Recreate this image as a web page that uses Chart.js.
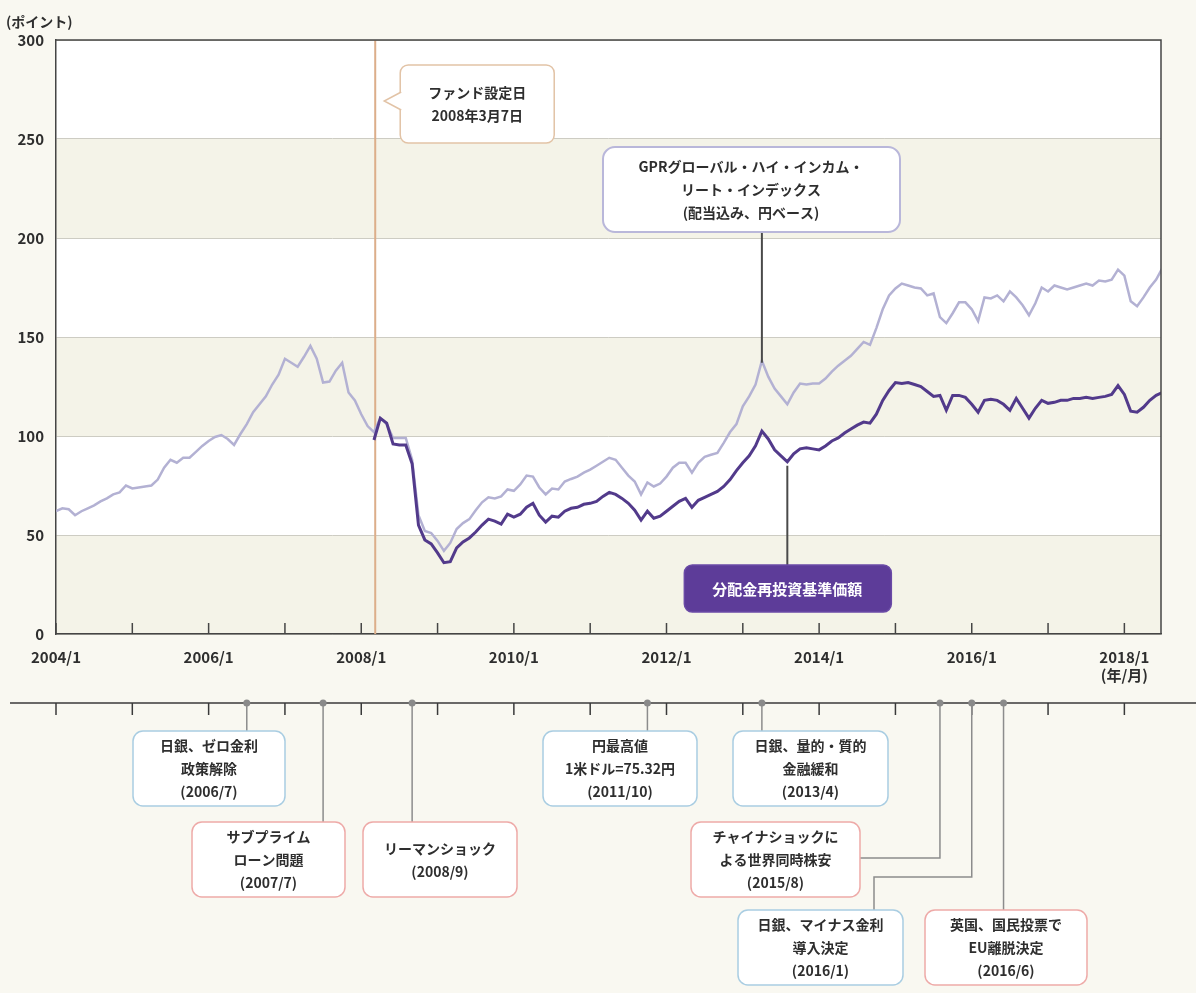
<!DOCTYPE html>
<html lang="ja">
<head>
<meta charset="utf-8">
<title>GPR index and fund NAV</title>
<script src="https://cdn.jsdelivr.net/npm/chart.js@4.4.0/dist/chart.umd.min.js"></script>
<style>
  html, body { margin: 0; padding: 0; background: #f9f8f1; }
  #wrap { width: 1196px; height: 993px; }
</style>
</head>
<body>
<div id="wrap"><canvas id="chart" width="1196" height="993"></canvas></div>
<script>
// Monthly values (points, 2008/3 = about 100)
const gprStart = '2004/1';
const gprValues = [
  62, 63.5, 63, 60, 62, 63.5, 65, 67, 68.5, 70.5, 71.5, 75,            // 2004
  73.5, 74, 74.5, 75, 78, 84, 88, 86.5, 89, 89, 92, 95,                // 2005
  97.5, 99.5, 100.5, 98.5, 95.5, 101, 106, 112, 116, 120, 126, 131,    // 2006
  139, 137, 135, 140, 145.5, 139, 127, 127.5, 133, 137, 122, 118,      // 2007
  111, 105, 102, 109, 106, 99, 99, 99, 88, 60, 52, 51,                 // 2008
  47, 42, 46, 53, 56, 58, 62.5, 66.5, 69, 68.5, 69.5, 73,              // 2009
  72.3, 75.5, 80, 79.5, 74, 70.5, 73.5, 73, 77, 78.3, 79.5, 81.5,      // 2010
  83, 85, 87, 89, 88, 84, 80, 77, 70.5, 76.5, 74.5, 76,                // 2011
  79.5, 84, 86.5, 86.5, 81.5, 86.5, 89.5, 90.5, 91.5, 96.5, 102, 106,  // 2012
  115, 120, 126, 138, 130, 124, 120, 116, 122, 126.5, 126, 126.5,      // 2013
  126.5, 129, 132.5, 135.5, 138, 140.5, 144, 147.5, 146, 154.5, 164, 171, // 2014
  174.5, 177, 176, 175, 174.5, 171, 172, 160, 157, 162, 167.5, 167.5,  // 2015
  164, 158, 170, 169.5, 171, 168, 173, 170, 166, 161, 167, 175,        // 2016
  173, 176, 175, 174, 175, 176, 177, 176, 178.5, 178, 179, 184,        // 2017
  181, 168, 165.5, 170, 175, 179, 185                                  // 2018
];
const fundStart = '2008/3';
const fundValues = [
  98, 109, 106.5, 96, 95.5, 95.5, 86, 55, 47.5, 45.5,                  // 2008
  41, 36, 36.5, 43.5, 46.5, 48.5, 51.5, 55, 58, 57, 55.5, 60.5,        // 2009
  59, 60.5, 64, 66, 60, 56.5, 59.5, 59, 62, 63.5, 64, 65.5,            // 2010
  66, 67, 69.5, 71.5, 70.5, 68.5, 66, 62.5, 57.5, 62, 58.5, 59.5,      // 2011
  62, 64.5, 67, 68.5, 64, 67.5, 69, 70.5, 72, 74.5, 78, 82.5,          // 2012
  86.5, 90, 95, 102.5, 98.5, 93, 90, 87, 91, 93.5, 94, 93.5,           // 2013
  93, 95, 97.5, 99, 101.5, 103.5, 105.5, 107, 106.5, 111, 118, 123,    // 2014
  127, 126.5, 127, 126, 125, 122.5, 120, 120.5, 113, 120.5, 120.5, 119.5, // 2015
  116, 112, 118, 118.5, 118, 116, 113, 119, 114, 109, 114, 118,        // 2016
  116.5, 117, 118, 118, 119, 119, 119.5, 119, 119.5, 120, 121, 125.5,  // 2017
  121, 112.5, 112, 114.5, 118, 120.5, 122                              // 2018
];

const yearTicks = [2004, 2005, 2006, 2007, 2008, 2009, 2010, 2011, 2012, 2013, 2014, 2015, 2016, 2017, 2018];
const launchDate = '2008/3/7';
const launchText = ['ファンド設定日', '2008年3月7日'];
const gprText = ['GPRグローバル・ハイ・インカム・', 'リート・インデックス', '(配当込み、円ベース)'];
const gprPointerDate = '2013/4';
const fundText = '分配金再投資基準価額';
const fundPointerDate = '2013/8';

const eventDates = ['2006/7', '2007/7', '2008/9', '2011/10', '2013/4', '2015/8', '2016/1', '2016/6'];
const eventTexts = [
  ['日銀、ゼロ金利', '政策解除'],
  ['サブプライム', 'ローン問題'],
  ['リーマンショック'],
  ['円最高値', '1米ドル=75.32円'],
  ['日銀、量的・質的', '金融緩和'],
  ['チャイナショックに', 'よる世界同時株安'],
  ['日銀、マイナス金利', '導入決定'],
  ['英国、国民投票で', 'EU離脱決定']
];
const eventKinds = ['policy', 'shock', 'shock', 'policy', 'policy', 'shock', 'policy', 'shock'];

// helpers
function toYear(s) {
  const p = s.split('/').map(Number);
  return p[0] + ((p[1] || 1) - 1) / 12 + ((p[2] || 1) - 1) / 365;
}
function series(start, values) {
  const s = toYear(start);
  return values.map((v, i) => ({ x: s + i / 12, y: v }));
}
function valueAt(start, values, date) {
  return values[Math.round((toYear(date) - toYear(start)) * 12)];
}

const FONT = '"Noto Sans CJK JP", "Noto Sans", sans-serif';
const PAGE_BG = '#f9f8f1';
const BAND = '#f4f3e8';
const AXIS = '#454545';
const TEXT = '#2e2e2e';
const GPR_COLOR = '#b3b1d3';
const FUND_COLOR = '#523a8b';
const LAUNCH_COLOR = '#dcae8a';
const BOX_BORDER = { policy: '#a9cde2', shock: '#eeaaa8' };

function line(ctx, pts) {
  ctx.beginPath();
  ctx.moveTo(pts[0][0], pts[0][1]);
  for (let i = 1; i < pts.length; i++) ctx.lineTo(pts[i][0], pts[i][1]);
  ctx.stroke();
}
function box(ctx, x, y, w, h, r, stroke, fill, lw) {
  ctx.beginPath();
  ctx.roundRect(x, y, w, h, r);
  ctx.fillStyle = fill;
  ctx.fill();
  ctx.lineWidth = lw;
  ctx.strokeStyle = stroke;
  ctx.stroke();
}
function textLines(ctx, lines, cx, cy, gap) {
  const top = cy - (lines.length - 1) * gap / 2;
  lines.forEach((t, i) => ctx.fillText(t, cx, top + i * gap));
}

const decor = {
  id: 'decor',
  beforeDraw(chart) {
    const { ctx, chartArea: a, scales: { y } } = chart;
    ctx.save();
    ctx.fillStyle = PAGE_BG;
    ctx.fillRect(0, 0, chart.width, chart.height);
    for (let v = 0; v < 300; v += 50) {
      ctx.fillStyle = (v / 50) % 2 === 0 ? BAND : '#ffffff';
      const y1 = y.getPixelForValue(v + 50), y0 = y.getPixelForValue(v);
      ctx.fillRect(a.left, y1, a.right - a.left, y0 - y1);
    }
    ctx.restore();
  },
  beforeDatasetsDraw(chart) {
    const { ctx, chartArea: a, scales: { x } } = chart;
    const px = x.getPixelForValue(toYear(launchDate));
    ctx.save();
    ctx.strokeStyle = LAUNCH_COLOR;
    ctx.lineWidth = 2;
    line(ctx, [[px, a.top], [px, a.bottom]]);
    ctx.restore();
  },
  afterDraw(chart) {
    const { ctx, chartArea: a, scales: { x, y } } = chart;
    ctx.save();

    // frame top / right and inward year ticks
    ctx.strokeStyle = AXIS;
    ctx.lineWidth = 1.5;
    line(ctx, [[a.left, a.top], [a.right, a.top], [a.right, a.bottom]]);
    yearTicks.forEach(v => {
      const px = x.getPixelForValue(v);
      line(ctx, [[px, a.bottom], [px, a.bottom - 11]]);
    });

    // unit
    ctx.fillStyle = TEXT;
    ctx.font = 'bold 14px ' + FONT;
    ctx.textAlign = 'left';
    ctx.textBaseline = 'middle';
    ctx.fillText('(ポイント)', 6, 22);

    ctx.textAlign = 'center';
    ctx.font = 'bold 14px ' + FONT;

    // fund launch callout
    const lx = x.getPixelForValue(toYear(launchDate));
    const bx = lx + 25, by = 65, bw = 154, bh = 78;
    box(ctx, bx, by, bw, bh, 8, '#e2c3a6', '#ffffff', 1.5);
    ctx.beginPath();
    ctx.moveTo(bx + 1, by + 27);
    ctx.lineTo(lx + 9, by + 36);
    ctx.lineTo(bx + 1, by + 45);
    ctx.fillStyle = '#ffffff';
    ctx.fill();
    ctx.strokeStyle = '#e2c3a6';
    ctx.stroke();
    ctx.fillStyle = TEXT;
    textLines(ctx, launchText, bx + bw / 2, by + 39, 23);

    // GPR callout
    const gx = x.getPixelForValue(toYear(gprPointerDate));
    const gy = y.getPixelForValue(valueAt(gprStart, gprValues, gprPointerDate));
    ctx.strokeStyle = '#4a4a4a';
    ctx.lineWidth = 2;
    line(ctx, [[gx, 232], [gx, gy + 2]]);
    box(ctx, 603, 147, 297, 85, 12, '#b9b7da', '#ffffff', 2);
    ctx.fillStyle = TEXT;
    textLines(ctx, gprText, 751, 190, 23);

    // fund label
    const fx = x.getPixelForValue(toYear(fundPointerDate));
    const fy = y.getPixelForValue(valueAt(fundStart, fundValues, fundPointerDate));
    ctx.strokeStyle = '#4a4a4a';
    line(ctx, [[fx, fy + 4], [fx, 566]]);
    box(ctx, fx - 103, 565, 207, 47, 8, '#6a4aa6', '#5d3c99', 1.5);
    ctx.fillStyle = '#ffffff';
    ctx.font = 'bold 15px ' + FONT;
    ctx.fillText(fundText, fx, 589);

    // event timeline
    const ty = 703;
    ctx.strokeStyle = '#3a3a3a';
    ctx.lineWidth = 1.5;
    line(ctx, [[10, ty], [chart.width, ty]]);
    yearTicks.forEach(v => {
      const px = x.getPixelForValue(v);
      line(ctx, [[px, ty], [px, ty + 12]]);
    });

    const boxes = [
      { x: 133, y: 731, w: 152 },
      { x: 192, y: 822, w: 153 },
      { x: 363, y: 822, w: 154 },
      { x: 543, y: 731, w: 154 },
      { x: 733, y: 731, w: 155 },
      { x: 691, y: 822, w: 169, side: 858 },
      { x: 738, y: 910, w: 165, elbow: [877, 874] },
      { x: 925, y: 910, w: 162 }
    ];
    ctx.font = 'bold 14px ' + FONT;
    eventDates.forEach((d, i) => {
      const px = x.getPixelForValue(toYear(d));
      const b = boxes[i];
      ctx.strokeStyle = '#8c8c8c';
      ctx.lineWidth = 1.5;
      if (b.side) {
        line(ctx, [[px, ty], [px, b.side], [b.x + b.w, b.side]]);
      } else if (b.elbow) {
        line(ctx, [[px, ty], [px, b.elbow[0]], [b.elbow[1], b.elbow[0]], [b.elbow[1], b.y]]);
      } else {
        line(ctx, [[px, ty], [px, b.y]]);
      }
      ctx.beginPath();
      ctx.arc(px, ty, 3.5, 0, Math.PI * 2);
      ctx.fillStyle = '#8a8a8a';
      ctx.fill();
      box(ctx, b.x, b.y, b.w, 75, 10, BOX_BORDER[eventKinds[i]], '#ffffff', 1.5);
      ctx.fillStyle = TEXT;
      textLines(ctx, eventTexts[i].concat('(' + d + ')'), b.x + b.w / 2, b.y + 38, 23);
    });

    ctx.restore();
  }
};

new Chart(document.getElementById('chart'), {
  type: 'line',
  data: {
    datasets: [
      {
        label: fundText,
        data: series(fundStart, fundValues),
        borderColor: FUND_COLOR,
        borderWidth: 3,
        pointRadius: 0,
        tension: 0
      },
      {
        label: gprText.join(''),
        data: series(gprStart, gprValues),
        borderColor: GPR_COLOR,
        borderWidth: 2.5,
        pointRadius: 0,
        tension: 0
      }
    ]
  },
  options: {
    responsive: false,
    animation: false,
    layout: { padding: { top: 40, right: 35, left: 0, bottom: 0 } },
    plugins: { legend: { display: false }, tooltip: { enabled: false } },
    scales: {
      x: {
        type: 'linear',
        min: 2004,
        max: 2018.48,
        afterBuildTicks: s => { s.ticks = yearTicks.map(v => ({ value: v })); },
        afterFit: s => { s.height = 359; },
        grid: { display: false },
        border: { display: true, color: AXIS, width: 1.5 },
        ticks: {
          autoSkip: false,
          maxRotation: 0,
          padding: 6,
          color: TEXT,
          font: { family: FONT, size: 15, weight: 'bold' },
          callback: v => v % 2 !== 0 ? '' : (v === 2018 ? ['2018/1', '(年/月)'] : v + '/1')
        }
      },
      y: {
        min: 0,
        max: 300,
        afterFit: s => { s.width = 56; },
        grid: { color: '#cdccc3', lineWidth: 1, drawTicks: false },
        border: { display: true, color: AXIS, width: 1.5 },
        ticks: {
          stepSize: 50,
          padding: 12,
          color: TEXT,
          font: { family: FONT, size: 15, weight: 'bold' }
        }
      }
    }
  },
  plugins: [decor]
});
</script>
</body>
</html>
